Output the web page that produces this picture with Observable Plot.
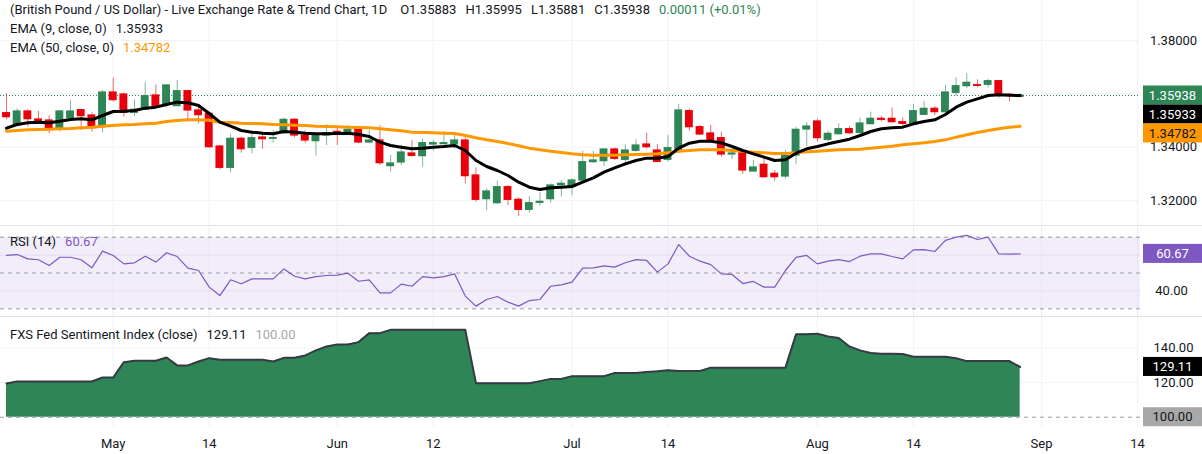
<!DOCTYPE html>
<html>
<head>
<meta charset="utf-8">
<script src="https://cdn.jsdelivr.net/npm/d3@7"></script>
<script src="https://cdn.jsdelivr.net/npm/@observablehq/plot@0.6"></script>
<style>
  body { margin: 0; background: #fff; }
  #chart { position: relative; width: 1202px; height: 454px; overflow: hidden; font-family: Roboto, sans-serif; background: #fff; }
  #chart svg { position: absolute; left: 0; overflow: visible; }
  .sep { position: absolute; left: 0; width: 1202px; height: 1px; background: #e0e3eb; }
  .legend { position: absolute; left: 10px; font-size: 13px; line-height: 16px; color: #131722; white-space: pre; }
  .legend span.g { margin-left: 9px; }
</style>
</head>
<body>
<div id="chart"></div>
<script>
// ---- data ----
const open = [1.35275,1.34813,1.35338,1.35038,1.35,1.34663,1.35088,1.35388,1.35188,1.3475,
1.3605,1.35975,1.35288,1.354,1.35938,1.35588,1.35538,1.361,1.35375,1.3525,
1.34025,1.33225,1.34313,1.33975,1.34363,1.34313,1.34525,1.35025,1.34438,1.34225,
1.34438,1.34575,1.34525,1.3465,1.34175,1.3425,1.33288,1.33425,1.33763,1.33663,
1.341,1.34113,1.341,1.3425,1.32938,1.3205,1.319,1.325,1.32025,1.3165,
1.31913,1.3205,1.32575,1.32525,1.3275,1.33438,1.33475,1.33913,1.33525,1.33863,
1.341,1.33875,1.33525,1.33838,1.3535,1.3475,1.34513,1.34338,1.33725,1.3385,
1.33088,1.33338,1.33,1.329,1.33688,1.34663,1.34963,1.34275,1.34488,1.34675,
1.34538,1.34863,1.35063,1.35063,1.34938,1.34838,1.35213,1.35438,1.35313,1.36038,
1.36288,1.36325,1.36338,1.36475,1.35963,1.35883];
const high = [1.36,1.35438,1.354,1.35338,1.35175,1.35375,1.3575,1.35413,1.35288,1.36125,
1.36588,1.36038,1.35775,1.36425,1.36325,1.3635,1.365,1.36125,1.355,1.35313,
1.34063,1.34475,1.34375,1.34625,1.34563,1.34625,1.35088,1.35063,1.346,1.34525,
1.3485,1.34775,1.34813,1.34713,1.34625,1.34813,1.33688,1.34063,1.3425,1.34313,
1.3425,1.34588,1.34438,1.3435,1.33225,1.32438,1.32725,1.32563,1.321,1.3215,
1.32313,1.32625,1.3275,1.32813,1.3385,1.3385,1.33938,1.33963,1.34088,1.34288,
1.34525,1.341,1.34438,1.356,1.35438,1.34813,1.34813,1.34563,1.33938,1.339,
1.335,1.33625,1.33125,1.33875,1.3475,1.34925,1.3505,1.346,1.34875,1.34775,
1.35088,1.35313,1.3515,1.35475,1.351,1.356,1.35713,1.35525,1.36313,1.366,
1.3675,1.36525,1.36538,1.365,1.36025,1.35995];
const low = [1.35038,1.34788,1.3475,1.34913,1.345,1.34563,1.35038,1.34625,1.34563,1.34538,
1.35688,1.35125,1.3515,1.35375,1.355,1.35475,1.35525,1.35,1.34875,1.33938,
1.3315,1.33038,1.33775,1.3375,1.33925,1.3415,1.345,1.3435,1.3415,1.33663,
1.34063,1.34063,1.345,1.34125,1.34125,1.33313,1.33063,1.33313,1.33625,1.3325,
1.3385,1.341,1.33938,1.32625,1.31938,1.31625,1.3185,1.31813,1.314,1.31525,
1.31788,1.319,1.32125,1.32188,1.3265,1.334,1.33275,1.335,1.33275,1.33813,
1.33938,1.33413,1.33438,1.338,1.346,1.34438,1.3415,1.33625,1.33538,1.32975,
1.33063,1.3285,1.32725,1.328,1.33338,1.34025,1.34188,1.34213,1.3445,1.34475,
1.34375,1.34838,1.34938,1.34913,1.3475,1.34813,1.35188,1.35188,1.35288,1.35913,
1.36188,1.36225,1.36225,1.35838,1.357,1.35881];
const close = [1.35125,1.35338,1.3505,1.3495,1.34663,1.35338,1.35338,1.35163,1.34713,1.3605,
1.35763,1.35288,1.354,1.35913,1.35525,1.36313,1.361,1.35375,1.352,1.34,
1.33225,1.34313,1.33925,1.34338,1.343,1.34338,1.35025,1.34438,1.3425,1.34438,
1.34525,1.34525,1.3465,1.34175,1.3425,1.334,1.33388,1.338,1.33675,1.3415,
1.3415,1.3415,1.3425,1.32913,1.32025,1.32338,1.325,1.32025,1.3165,1.319,
1.3195,1.32563,1.32625,1.3275,1.33438,1.335,1.33913,1.33563,1.33875,1.34063,
1.34,1.3345,1.33963,1.35375,1.3475,1.34475,1.3425,1.33725,1.33763,1.33125,
1.33238,1.32875,1.32875,1.33675,1.3465,1.34775,1.34338,1.345,1.34675,1.34525,
1.34888,1.35063,1.35025,1.34938,1.34875,1.3535,1.35438,1.35313,1.3605,1.36288,
1.36413,1.363,1.36475,1.35925,1.35927,1.35938];
const ema9 = [1.34713,1.3485,1.34913,1.34938,1.34913,1.34975,1.35038,1.35063,1.35025,1.35188,
1.35338,1.3535,1.35375,1.35463,1.355,1.356,1.35688,1.35663,1.35563,1.35263,
1.34938,1.34788,1.34625,1.34563,1.34525,1.345,1.34588,1.34563,1.34525,1.345,
1.345,1.34513,1.34525,1.34475,1.344,1.34188,1.34063,1.34,1.33938,1.33963,
1.34,1.34025,1.34063,1.33875,1.335,1.33275,1.33125,1.32938,1.32688,1.325,
1.32413,1.32475,1.325,1.32525,1.32688,1.3285,1.33063,1.33225,1.33375,1.335,
1.33588,1.33588,1.3365,1.33963,1.3415,1.34225,1.34225,1.34163,1.34025,1.33875,
1.3375,1.33625,1.335,1.33525,1.33775,1.33938,1.34025,1.34125,1.34213,1.343,
1.34438,1.34588,1.34688,1.34725,1.3475,1.34875,1.34963,1.35025,1.35225,1.355,
1.35688,1.35813,1.35938,1.35963,1.3595,1.35933];
const ema50 = [1.346,1.34625,1.3465,1.34663,1.34675,1.34688,1.347,1.34725,1.3475,1.34788,
1.34813,1.34838,1.3485,1.34875,1.349,1.34963,1.35,1.35025,1.35025,1.35013,
1.34938,1.34925,1.349,1.34888,1.34875,1.3485,1.34838,1.34825,1.34813,1.34788,
1.34775,1.34763,1.3475,1.34738,1.34725,1.34688,1.3465,1.34613,1.34563,1.3455,
1.34538,1.34525,1.34513,1.34438,1.3435,1.34275,1.34213,1.34138,1.3405,1.33963,
1.339,1.3385,1.338,1.3375,1.33713,1.337,1.337,1.337,1.33713,1.33725,
1.33738,1.3375,1.33788,1.3385,1.33875,1.339,1.339,1.339,1.33875,1.3385,
1.33813,1.33788,1.33763,1.33763,1.33788,1.33825,1.3385,1.33875,1.339,1.33913,
1.33925,1.33963,1.34,1.34038,1.34088,1.34125,1.34163,1.34213,1.34275,1.34375,
1.34463,1.3455,1.34625,1.34688,1.3475,1.34782];
const rsi = [59.8,60.3,57.9,57.4,54.2,58.8,58.8,57.4,52.9,62.2,
59.8,55.1,55.7,59.4,56.1,61.3,59.2,52.7,51.4,42.1,
37.4,46.2,44.0,46.7,46.7,46.7,52.3,48.2,46.7,48.0,
48.6,48.8,49.9,45.4,46.2,38.9,38.9,43.8,42.6,48.0,
47.3,48.0,49.5,37.1,31.5,35.2,36.9,33.7,31.5,34.6,
35.2,42.6,43.4,44.9,52.7,52.9,54.0,53.3,55.7,57.5,
57.0,50.5,55.1,65.9,59.4,56.6,54.7,49.5,49.2,44.1,
45.3,42.1,42.1,51.4,58.7,59.8,55.1,56.6,57.5,56.4,
59.4,60.7,60.7,59.2,57.9,62.9,63.1,62.0,68.2,70.0,
71.0,68.7,70.0,60.7,60.5,60.67];
const sentiment = [119.5,120.7,120.7,120.7,120.7,120.7,120.7,120.7,120.7,123.0,
123.0,131.9,132.7,132.7,132.7,134.6,130.0,130.0,132.3,134.2,
133.3,133.3,133.3,133.3,133.3,132.3,134.4,134.4,135.8,138.7,
141.0,142.1,142.1,143.5,148.7,148.7,150.6,150.6,150.6,150.6,
150.6,150.6,150.6,150.6,119.7,119.7,119.7,119.7,119.7,119.7,
120.9,122.2,122.2,123.8,123.8,123.8,123.8,125.6,125.6,125.6,
126.2,126.6,127.2,126.8,126.8,126.8,128.7,128.7,128.7,128.7,
128.7,128.7,128.7,128.7,148.0,148.0,148.4,146.8,145.9,141.0,
138.7,137.2,136.8,136.7,136.6,135.0,135.0,135.0,135.0,134.1,
132.5,132.5,132.5,132.5,132.5,129.11];
const tickIndex = [10, 19, 31, 40, 53, 62, 76, 85, 97, 106];
const tickLabels = ["May", "14", "Jun", "12", "Jul", "14", "Aug", "14", "Sep", "14"];
const priceTicks = [1.32, 1.34, 1.36, 1.38];
const rsiGrid = [40, 60];
const rsiBands = [30, 50, 70];
const rsiLabels = [40];
const sentGrid = [120, 140];
const sentLabels = [120, 140];
const sentBase = 100;

// ---- build ----
const W = 1202, MR = 62;
const xDomain = [-0.5623, 106.28];
const UP = "#2e8555", DOWN = "#e8000b", TXT = "#131722", GRID = "#f0f3fa";
const bars = open.map((o, i) => ({
  i, open: o, high: high[i], low: low[i], close: close[i],
  ema9: ema9[i], ema50: ema50[i], rsi: rsi[i], sent: sentiment[i],
  col: close[i] >= o ? UP : DOWN
}));
const last = bars[bars.length - 1];
const labelOf = new Map(tickIndex.map((d, k) => [d, tickLabels[k]]));
const baseStyle = {fontFamily: "Roboto, sans-serif", fontSize: "13px", color: TXT, background: "transparent", overflow: "visible"};

function valueBoxes(items) {
  return (index, scales, values, dims) => {
    const g = d3.create("svg:g");
    const x0 = dims.width - dims.marginRight + 3;
    const h = 19;
    let prev = -Infinity;
    for (const it of items) {
      let y = scales.y(it.value);
      if (y - h / 2 < prev) y = prev + h / 2;
      prev = y + h / 2;
      g.append("rect").attr("x", x0).attr("y", y - h / 2).attr("width", dims.width - x0).attr("height", h).attr("fill", it.fill);
      g.append("text").attr("x", x0 + (dims.width - x0) / 2).attr("y", y).attr("dy", "0.35em")
        .attr("text-anchor", "middle").attr("fill", it.color).attr("font-size", 13)
        .attr("font-family", "Roboto, sans-serif").text(it.text);
    }
    return g.node();
  };
}

const chart = document.getElementById("chart");

// Price panel
const price = Plot.plot({
  width: W, height: 226, marginLeft: 0, marginRight: MR, marginTop: 0, marginBottom: 0,
  style: baseStyle,
  x: {domain: xDomain, axis: null},
  y: {domain: [1.31025, 1.395], axis: null},
  color: {type: "identity"},
  marks: [
    Plot.ruleX(tickIndex, {x: d => d, stroke: GRID}),
    Plot.ruleY(priceTicks, {y: d => d, stroke: GRID}),
    Plot.ruleY([last.close], {y: d => d, stroke: UP, strokeDasharray: "1,2"}),
    Plot.ruleX(bars, {x: "i", y1: "low", y2: "high", stroke: "col", strokeOpacity: 0.6}),
    Plot.rect(bars, {x1: d => d.i - 0.37, x2: d => d.i + 0.37, y1: "open", y2: "close", fill: "col", insetTop: -0.6, insetBottom: -0.6}),
    Plot.line(bars, {x: "i", y: "ema50", stroke: "#ff9800", strokeWidth: 3}),
    Plot.line(bars, {x: "i", y: "ema9", stroke: "#000000", strokeWidth: 3}),
    Plot.text(priceTicks, {y: d => d, text: d => d.toFixed(5), frameAnchor: "right", dx: 33, textAnchor: "middle", fill: TXT, fontSize: 13}),
    valueBoxes([
      {value: last.close, text: last.close.toFixed(5), fill: UP, color: "#ffffff"},
      {value: last.ema9, text: last.ema9.toFixed(5), fill: "#000000", color: "#ffffff"},
      {value: last.ema50, text: last.ema50.toFixed(5), fill: "#ff9800", color: TXT}
    ])
  ]
});
price.style.top = "0px";
chart.appendChild(price);

// RSI panel
const rsiPlot = Plot.plot({
  width: W, height: 89, marginLeft: 0, marginRight: MR, marginTop: 0, marginBottom: 0,
  style: baseStyle,
  x: {domain: xDomain, axis: null},
  y: {domain: [25.70, 75.42], axis: null},
  marks: [
    Plot.rect([{a: xDomain[0], b: xDomain[1]}], {x1: "a", x2: "b", y1: () => 30, y2: () => 70, fill: "#7e57c2", fillOpacity: 0.1}),
    Plot.ruleX(tickIndex, {x: d => d, stroke: "#e9e4f3"}),
    Plot.ruleY(rsiGrid, {y: d => d, stroke: "#e3ddef"}),
    Plot.ruleY(rsiBands, {y: d => d, stroke: "#9a9ca6", strokeDasharray: "4,4"}),
    Plot.line(bars, {x: "i", y: "rsi", stroke: "#7e57c2", strokeWidth: 1.2}),
    Plot.text(rsiLabels, {y: d => d, text: d => d.toFixed(2), frameAnchor: "right", dx: 31, textAnchor: "middle", fill: TXT, fontSize: 13}),
    valueBoxes([{value: last.rsi, text: last.rsi.toFixed(2), fill: "#7e57c2", color: "#ffffff"}])
  ]
});
rsiPlot.style.top = "227px";
chart.appendChild(rsiPlot);

// Sentiment panel + x axis
const sentPlot = Plot.plot({
  width: W, height: 137, marginLeft: 0, marginRight: MR, marginTop: 0, marginBottom: 27,
  style: baseStyle,
  x: {domain: xDomain},
  y: {domain: [94.05, 157.75], axis: null},
  marks: [
    Plot.ruleX(tickIndex, {x: d => d, stroke: GRID}),
    Plot.ruleY(sentGrid, {y: d => d, stroke: GRID}),
    Plot.areaY(bars, {x: "i", y1: () => sentBase, y2: "sent", fill: "#2e8555"}),
    Plot.lineY(bars, {x: "i", y: "sent", stroke: "#363a45", strokeWidth: 2}),
    Plot.ruleY([sentBase], {y: d => d, stroke: "#9a9ca6", strokeDasharray: "4,4"}),
    Plot.axisX(tickIndex, {tickFormat: d => labelOf.get(d), tickSize: 0, tickPadding: 11, fontSize: 13, fill: TXT, label: null}),
    Plot.text(sentLabels, {y: d => d, text: d => d.toFixed(2), frameAnchor: "right", dx: 33, textAnchor: "middle", fill: TXT, fontSize: 13}),
    valueBoxes([
      {value: last.sent, text: last.sent.toFixed(2), fill: "#000000", color: "#ffffff"},
      {value: sentBase, text: sentBase.toFixed(2), fill: "#a8a8a8", color: TXT}
    ])
  ]
});
sentPlot.style.top = "317px";
chart.appendChild(sentPlot);

// separators
for (const t of [225, 316]) {
  const s = document.createElement("div");
  s.className = "sep"; s.style.top = t + "px";
  chart.appendChild(s);
}

// legends (text)
function legend(top, html) {
  const d = document.createElement("div");
  d.className = "legend"; d.style.top = top + "px"; d.innerHTML = html;
  chart.appendChild(d);
}
const chg = (last.close - close[close.length - 2]);
legend(2, `(British Pound / US Dollar) - Live Exchange Rate &amp; Trend Chart, 1D<span style="margin-left:13px">O${last.open.toFixed(5)}</span><span class="g">H${last.high.toFixed(5)}</span><span class="g">L${last.low.toFixed(5)}</span><span class="g">C${last.close.toFixed(5)}</span><span class="g" style="color:${UP}">${chg.toFixed(5)} (+${(chg / close[close.length - 2] * 100).toFixed(2)}%)</span>`);
legend(21, `EMA (9, close, 0)<span class="g">${last.ema9.toFixed(5)}</span>`);
legend(40, `EMA (50, close, 0)<span class="g" style="color:#ff9800">${last.ema50.toFixed(5)}</span>`);
legend(234, `RSI (14)<span class="g" style="color:#7e57c2">${last.rsi.toFixed(2)}</span>`);
legend(327, `FXS Fed Sentiment Index (close)<span class="g">${last.sent.toFixed(2)}</span><span class="g" style="color:#a8a8a8">${sentBase.toFixed(2)}</span>`);
</script>
</body>
</html>
